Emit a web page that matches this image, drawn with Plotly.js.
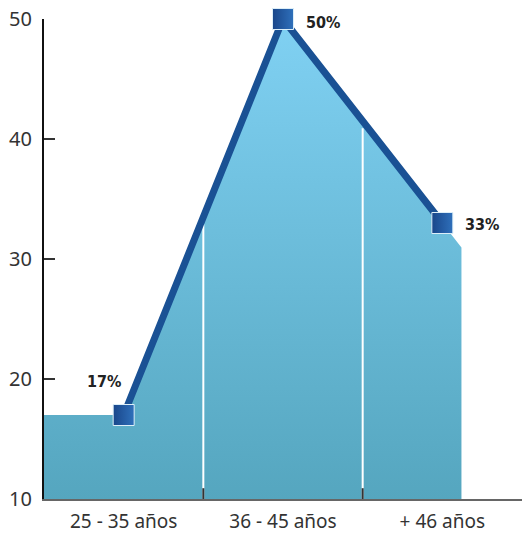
<!DOCTYPE html>
<html>
<head>
<meta charset="utf-8">
<script src="https://cdn.plot.ly/plotly-3.0.1.min.js"></script>
<style>html,body{margin:0;padding:0;background:#fff;}#chart{width:522px;height:540px;}</style>
</head>
<body>
<div id="chart"></div>
<script>
// ---- data ----
const categories = ['25 - 35 años', '36 - 45 años', '+ 46 años'];
const values = [17, 50, 33];
const valueLabels = ['17%', '50%', '33%'];
const yTickVals = [10, 20, 30, 40, 50];

// ---- derived ----
const xPos = categories.map((c, i) => i);
const yMin = 10, yMax = 50;
const rightExt = 0.12; // area continues slightly past last category
const n = values.length;
const slopeEnd = values[n - 1] - values[n - 2];
const yExt = values[n - 1] + slopeEnd * rightExt;

const areaX = [-0.5, xPos[0]].concat(xPos.slice(1), [xPos[n - 1] + rightExt, xPos[n - 1] + rightExt, -0.5]);
const areaY = [values[0], values[0]].concat(values.slice(1), [yExt, yMin, yMin]);

const traces = [];
traces.push({
  type: 'scatter', x: areaX, y: areaY, mode: 'lines', fill: 'toself',
  line: {width: 0, color: 'rgba(0,0,0,0)'},
  fillgradient: {type: 'vertical', colorscale: [[0, '#55a6bf'], [1, '#80d1f3']]},
  hoverinfo: 'skip', showlegend: false
});
// white separators at category boundaries
for (let i = 0; i < n - 1; i++) {
  const b = xPos[i] + 0.5;
  const yTop = values[i] + (values[i + 1] - values[i]) * 0.5;
  traces.push({
    type: 'scatter', x: [b, b], y: [yMin, yTop - 0.6], mode: 'lines',
    line: {color: '#ffffff', width: 2}, hoverinfo: 'skip', showlegend: false
  });
}
traces.push({
  type: 'scatter', x: xPos, y: values, mode: 'lines',
  line: {color: '#1a5194', width: 7}, hoverinfo: 'skip', showlegend: false, cliponaxis: false
});
traces.push({
  type: 'scatter', x: xPos, y: values, mode: 'markers',
  marker: {symbol: 'square', size: 21, color: '#19468a', gradient: {type: 'horizontal', color: '#2f70bb'},
           line: {color: '#dceef8', width: 1}},
  hoverinfo: 'skip', showlegend: false, cliponaxis: false
});

// label placement (style only)
const labelStyle = [
  {xanchor: 'right', xshift: -1, yshift: 34},
  {xanchor: 'left', xshift: 21, yshift: -3},
  {xanchor: 'left', xshift: 21, yshift: -1}
];

const layout = {
  width: 522, height: 540,
  margin: {l: 44, r: 0, t: 19, b: 41},
  paper_bgcolor: '#ffffff', plot_bgcolor: '#ffffff',
  showlegend: false,
  xaxis: {
    range: [-0.5, 2.5], tickvals: xPos, ticktext: categories, ticks: '',
    showgrid: false, zeroline: false, showline: true, linecolor: '#666', linewidth: 2,
    tickfont: {family: 'Noto Sans, Open Sans, sans-serif', size: 19, color: '#333'},
    ticklabelstandoff: 4, fixedrange: true
  },
  yaxis: {
    range: [yMin, yMax], tickvals: yTickVals, ticks: 'inside', ticklen: 11, tickwidth: 2, tickcolor: '#333',
    showgrid: false, zeroline: false, showline: true, linecolor: '#111', linewidth: 2,
    tickfont: {family: 'Noto Sans, Open Sans, sans-serif', size: 20, color: '#333'},
    ticklabelstandoff: 6, fixedrange: true
  },
  annotations: values.map((v, i) => Object.assign({
    x: xPos[i], y: v, xref: 'x', yref: 'y', text: valueLabels[i], showarrow: false,
    yanchor: 'middle',
    font: {family: 'DejaVu Sans Condensed, DejaVu Sans, sans-serif', size: 16, color: '#222', weight: 'bold', stretch: 'condensed'}
  }, labelStyle[i])),
  shapes: xPos.slice(0, n - 1).map(v => ({
    type: 'line', xref: 'x', yref: 'y', x0: v + 0.5, x1: v + 0.5, y0: yMin, y1: yMin + 0.9,
    line: {color: '#333', width: 2}, layer: 'above'
  }))
};

Plotly.newPlot('chart', traces, layout, {staticPlot: true, displayModeBar: false});
</script>
</body>
</html>
